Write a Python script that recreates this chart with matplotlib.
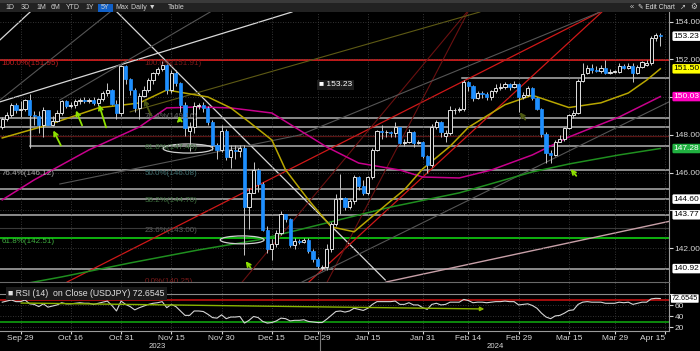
import matplotlib
matplotlib.use("Agg")
import matplotlib.pyplot as plt
import matplotlib.patches as mpatches
import matplotlib.transforms as mtrans
import numpy as np
import pandas as pd

plt.rcParams["font.family"] = ["Liberation Sans", "DejaVu Sans"]

# -----------------------
# Data (USDJPY daily)
# -----------------------
dates = pd.bdate_range("2023-09-25", "2024-04-12")

opens = [148.40, 148.85, 149.05, 149.60, 149.30, 149.35, 149.85, 149.05, 149.00, 148.50,
         149.30, 148.55, 148.75, 149.15, 149.80, 149.55, 149.60, 149.80, 149.85, 149.80,
         149.85, 149.70, 149.90, 150.20, 150.40, 149.65, 149.15, 151.65, 150.95, 150.40,
         149.40, 150.05, 150.40, 150.90, 151.30, 151.50, 151.70, 150.40, 151.30, 150.75,
         149.60, 148.20, 148.40, 149.55, 149.60, 149.45, 148.70, 147.45, 147.20, 148.20,
         146.85, 147.20, 147.15, 147.30, 144.20, 144.95, 146.15, 145.40, 142.95, 141.95,
         142.20, 142.80, 143.80, 143.55, 142.15, 142.40, 142.35, 142.45, 141.85, 141.45,
         140.95, 141.00, 141.95, 143.30, 144.60, 144.65, 144.20, 144.50, 145.75, 145.30,
         144.90, 145.75, 147.20, 148.20, 148.15, 148.15, 148.10, 148.40, 147.55, 147.65,
         148.15, 147.55, 147.60, 146.90, 146.40, 148.40, 148.70, 147.95, 148.10, 149.30,
         149.30, 149.35, 150.80, 150.60, 149.95, 150.20, 150.15, 150.00, 150.30, 150.50,
         150.55, 150.70, 150.55, 150.70, 150.00, 150.10, 150.50, 149.95, 149.35, 148.05,
         147.05, 146.95, 147.65, 147.80, 148.35, 149.05, 149.15, 150.85, 151.30, 151.55,
         151.45, 151.40, 151.55, 151.30, 151.35, 151.35, 151.65, 151.55, 151.65, 151.30,
         151.60, 151.70, 151.80, 153.15, 153.30]

highs = [148.95, 149.20, 149.70, 149.70, 149.80, 149.90, 150.15, 149.25, 149.25, 149.50,
         149.30, 149.00, 149.30, 149.85, 149.85, 149.75, 149.90, 149.95, 150.00, 149.95,
         150.00, 149.95, 150.30, 150.75, 150.45, 149.85, 151.70, 151.70, 151.00, 150.50,
         150.20, 150.60, 151.00, 151.35, 151.60, 151.92, 151.75, 151.45, 151.45, 150.80,
         149.75, 148.70, 149.75, 149.70, 149.75, 149.55, 148.80, 147.55, 148.50, 148.30,
         147.45, 147.45, 147.45, 147.45, 145.20, 146.55, 146.25, 145.50, 143.20, 142.50,
         142.95, 143.95, 143.75, 143.60, 142.55, 142.50, 142.55, 142.55, 141.95, 141.55,
         141.10, 142.20, 143.40, 144.85, 145.95, 144.70, 144.60, 145.90, 145.85, 145.60,
         145.85, 147.30, 148.25, 148.50, 148.25, 148.20, 148.70, 148.40, 147.80, 148.30,
         148.20, 147.75, 147.70, 146.95, 148.60, 148.80, 148.75, 148.25, 149.55, 149.40,
         149.50, 150.90, 150.85, 150.65, 150.35, 150.30, 150.25, 150.40, 150.70, 150.75,
         150.80, 150.75, 150.85, 150.75, 150.25, 150.60, 150.55, 150.00, 149.40, 148.15,
         147.20, 147.75, 148.00, 148.40, 149.10, 149.30, 150.95, 151.80, 151.70, 151.75,
         151.65, 151.70, 151.95, 151.50, 151.45, 151.80, 151.75, 151.80, 151.80, 151.70,
         151.90, 151.95, 153.25, 153.40, 153.40]

lows = [148.30, 148.75, 148.95, 149.15, 148.95, 149.25, 147.30, 148.55, 148.10, 147.90,
        148.50, 148.45, 148.70, 149.05, 149.45, 149.40, 149.45, 149.65, 149.70, 149.70,
        149.60, 149.55, 149.80, 150.05, 149.60, 148.85, 149.00, 150.70, 150.10, 149.20,
        148.85, 150.00, 150.25, 150.70, 151.15, 151.40, 150.15, 150.20, 150.60, 149.20,
        147.95, 147.15, 148.10, 149.35, 149.20, 148.50, 147.20, 146.70, 147.10, 146.65,
        146.25, 146.75, 146.85, 141.65, 143.00, 144.90, 145.00, 142.90, 141.75, 141.40,
        142.05, 142.70, 143.40, 142.05, 141.95, 142.20, 142.25, 141.75, 141.25, 140.90,
        140.85, 140.85, 141.80, 143.20, 143.80, 144.00, 144.05, 144.35, 145.10, 144.80,
        144.80, 145.65, 147.15, 147.80, 147.90, 147.90, 147.90, 147.50, 147.40, 147.55,
        147.35, 147.50, 146.80, 146.00, 146.30, 148.30, 147.90, 147.65, 148.00, 149.10,
        149.20, 149.25, 150.35, 149.80, 149.90, 149.95, 149.85, 149.85, 150.20, 150.40,
        150.45, 150.40, 150.50, 149.20, 149.90, 150.05, 149.85, 149.30, 147.90, 146.50,
        146.50, 146.90, 147.60, 147.70, 148.30, 148.90, 149.10, 150.80, 151.20, 151.30,
        151.35, 151.30, 151.25, 151.25, 151.30, 151.30, 151.50, 151.50, 150.80, 151.25,
        151.55, 151.65, 151.70, 152.95, 152.70]

closes = [148.85, 149.05, 149.60, 149.30, 149.35, 149.85, 149.05, 149.00, 148.50, 149.30,
          148.55, 148.75, 149.15, 149.80, 149.55, 149.60, 149.80, 149.85, 149.80, 149.85,
          149.70, 149.90, 150.20, 150.40, 149.65, 149.15, 151.65, 150.95, 150.40, 149.40,
          150.05, 150.40, 150.90, 151.30, 151.50, 151.70, 150.40, 151.30, 150.75, 149.60,
          148.35, 148.40, 149.55, 149.60, 149.45, 148.70, 147.45, 147.20, 148.20, 146.85,
          147.20, 147.15, 147.30, 144.20, 144.95, 146.15, 145.40, 142.95, 141.95, 142.20,
          142.80, 143.80, 143.55, 142.15, 142.40, 142.35, 142.45, 141.85, 141.45, 141.05,
          141.00, 141.95, 143.30, 144.60, 144.65, 144.20, 144.50, 145.75, 145.30, 144.90,
          145.75, 147.20, 148.20, 148.15, 148.15, 148.10, 148.40, 147.55, 147.65, 148.15,
          147.55, 147.60, 146.90, 146.40, 148.40, 148.70, 148.15, 148.10, 149.30, 149.30,
          149.35, 150.80, 150.60, 149.95, 150.20, 150.15, 150.00, 150.30, 150.50, 150.55,
          150.70, 150.55, 150.70, 150.00, 150.10, 150.50, 149.95, 149.35, 148.05, 147.05,
          146.95, 147.65, 147.80, 148.35, 149.05, 149.15, 150.85, 151.25, 151.55, 151.45,
          151.40, 151.55, 151.30, 151.35, 151.35, 151.65, 151.55, 151.65, 151.30, 151.60,
          151.85, 151.80, 153.15, 153.30, 153.23]

rsi = [66, 68, 70, 67, 67, 70, 63, 62, 58, 63,
       57, 59, 61, 65, 63, 63, 64, 65, 64, 64,
       62, 64, 66, 68, 60, 50, 68, 62, 58, 52,
       56, 59, 62, 64, 65, 67, 56, 62, 58, 50,
       42, 42, 50, 50, 49, 44, 38, 37, 43, 36,
       39, 39, 40, 28, 33, 40, 38, 31, 28, 29,
       32, 37, 36, 32, 33, 33, 34, 31, 30, 29,
       29, 35, 42, 49, 50, 48, 50, 55, 53, 51,
       55, 62, 67, 67, 67, 67, 68, 62, 62, 65,
       61, 61, 56, 53, 62, 64, 61, 62, 66, 66,
       66, 71, 69, 65, 66, 66, 65, 66, 67, 67,
       68, 67, 67, 61, 62, 63, 60, 55, 46, 39,
       36, 41, 42, 46, 51, 52, 62, 66, 67, 66,
       66, 66, 64, 64, 64, 66, 65, 66, 62, 64,
       66, 66, 72, 73, 72.65]

# moving averages, sampled off the chart (day index -> level)
ma_fast_idx = [0, 10, 21, 30, 36, 45, 50, 54, 59, 62, 67, 72, 77, 84, 88, 92, 98, 102, 110, 116, 124, 131, 137, 141, 144]
ma_fast_val = [147.84, 148.53, 149.43, 149.69, 150.38, 150.01, 149.43, 148.69, 147.73, 146.15, 144.56, 143.13, 142.87,
               144.30, 145.10, 146.20, 147.40, 148.40, 149.60, 150.10, 149.45, 149.70, 150.22, 150.90, 151.50]
ma_mid_idx = [0, 7, 19, 30, 36, 43, 50, 59, 65, 71, 78, 87, 92, 100, 107, 116, 124, 135, 144]
ma_mid_val = [144.56, 145.62, 147.21, 148.42, 149.43, 149.48, 149.43, 149.16, 148.26, 147.36, 146.51, 146.14, 145.77,
              145.72, 146.14, 146.94, 147.89, 148.95, 150.03]
ma_slow_idx = [0, 13, 28, 43, 56, 85, 100, 116, 124, 135, 144]
ma_slow_val = [139.90, 140.48, 141.22, 141.91, 142.44, 144.18, 144.93, 146.04, 146.46, 146.94, 147.28]

# drawn levels (price, start day index)
levels_grey = [148.87, 148.44, 146.14, 145.13, 144.60, 143.77, 140.92]
box_level, box_start = 147.42, 6.1
upper_level, upper_start = 151.00, 100.6
red_level = 151.95
green_level = 142.53
darkred_level = 147.93
fib_faint = 143.09

# trendlines (day index, price) -> (day index, price)
trend_white = [(-0.5, 149.75, 63.4, 154.51), (25.1, 154.51, 83.8, 140.32), (-0.5, 153.03, 6.1, 154.51)]
trend_red = [(14.2, 140.21, 130.8, 154.51), (67.1, 140.21, 131.2, 154.51)]
trend_darkred = [(52.5, 140.21, 101.7, 154.51), (71.1, 140.21, 101.9, 154.51)]
trend_grey = [(65.6, 140.21, 145.9, 149.75), (65.2, 148.0, 130.8, 154.51), (-0.5, 149.85, 23.6, 154.51),
              (12.6, 149.85, 45.5, 154.51), (12.6, 145.4, 65.2, 148.0)]
trend_olive = [(28.0, 149.22, 104.5, 154.51)]
trend_rose = [(84.0, 140.21, 145.9, 143.42)]

# fib labels (day index, price, text)
fib_labels = [(-0.2, 151.80, "100.0%(151.95)", "#c02020"),
              (-0.2, 145.98, "76.4%(146.12)", "#a8a8a8"),
              (-0.2, 142.38, "61.8%(142.51)", "#40b040"),
              (31.2, 151.80, "100.0%(151.91)", "#7a1a1a"),
              (31.2, 149.00, "76.4%(149.16)", "#6a6a6a"),
              (31.2, 147.35, "61.8%(147.46)", "#3f6f3f"),
              (31.2, 145.95, "50.0%(146.08)", "#3f6f70"),
              (31.2, 144.55, "38.2%(144.70)", "#3f6f3f"),
              (31.2, 142.92, "23.6%(143.00)", "#5a5a5a"),
              (31.2, 140.25, "0.0%(140.25)", "#7a1a1a")]

# annotation arrows (tail idx, tail price, tip idx, tip price, bright?)
arrows = [(13.1, 147.31, 10.9, 148.37, True), (17.7, 148.37, 15.9, 149.43, True),
          (22.9, 148.26, 21.0, 149.75, True), (38.9, 148.58, 38.7, 149.16, True),
          (54.7, 140.85, 52.9, 141.43, True), (126.0, 145.72, 124.0, 146.30, True),
          (32.8, 148.90, 30.8, 150.01, False), (114.8, 148.69, 112.9, 149.32, False)]
ellipses = [(40.65, 147.28, 10.9, 0.48), (52.5, 142.44, 9.6, 0.42)]

# right side value tags (price, text, face, textcolor)
tags = [(153.23, "153.23", "white", "black"), (151.50, "151.50", "#ffff00", "black"),
        (150.03, "150.03", "#ff00c0", "white"), (147.28, "147.28", "#20b040", "white"),
        (144.60, "144.60", "white", "black"), (143.77, "143.77", "white", "black"),
        (140.92, "140.92", "white", "black")]
price_ticks = [142, 144, 146, 148, 150, 152, 154]
price_ticklabels = ["142.00", "", "146.00", "148.00", "", "152.00", "154.00"]
rsi_ticks = [20, 40, 60, 80]
rsi_ticklabels = ["20", "40", "60", ""]

tick_dates = ["2023-09-29", "2023-10-16", "2023-10-31", "2023-11-15", "2023-11-30", "2023-12-15",
              "2023-12-29", "2024-01-15", "2024-01-31", "2024-02-14", "2024-02-29", "2024-03-15",
              "2024-03-29", "2024-04-15"]
tick_labels = ["Sep 29", "Oct 16", "Oct 31", "Nov 15", "Nov 30", "Dec 15", "Dec 29", "Jan 15",
               "Jan 31", "Feb 14", "Feb 29", "Mar 15", "Mar 29", "Apr 15"]
year_dates = ["2023-11-10", "2024-02-22"]
year_labels = ["2023", "2024"]

# -----------------------
# Plot
# -----------------------
W, H = 700, 351
fig = plt.figure(figsize=(7, 3.51), dpi=100, facecolor="black")


def px(x0, y0, x1, y1):
    return [x0 / W, 1 - y1 / H, (x1 - x0) / W, (y1 - y0) / H]


ax = fig.add_axes(px(0, 12, 669, 282))
ax2 = fig.add_axes(px(0, 282, 669, 331), sharex=ax)
for a in (ax, ax2):
    a.set_facecolor("black")
    for s in a.spines.values():
        s.set_visible(False)
    a.spines["right"].set_visible(True)
    a.spines["right"].set_color("#9a9a9a")

x = np.arange(len(dates))
start = dates[0].strftime("%Y-%m-%d")
tick_pos = np.busday_count(start, tick_dates)
year_pos = np.busday_count(start, year_dates)

ax.set_xlim(-0.49, 145.9)
ax.set_ylim(140.21, 154.51)
ax2.set_ylim(13.6, 102.7)

# grid
ax.set_xticks(tick_pos)
ax.grid(True, color="#444444", ls=(0, (1, 2)), lw=0.6, zorder=0)
ax2.grid(True, color="#444444", ls=(0, (1, 2)), lw=0.6, zorder=0)

# horizontal levels
for lv in levels_grey:
    ax.axhline(lv, color="#c4c4c4", lw=1.1, alpha=0.9, zorder=1)
ax.axhline(fib_faint, color="#3a3a3a", lw=0.8, zorder=1)
ax.axhline(darkred_level, color="#5a1414", lw=0.9, zorder=1)
ax.plot([box_start, 145.9], [box_level, box_level], color="#c4c4c4", lw=1.1, alpha=0.9, zorder=1)
ax.plot([box_start, box_start], [box_level, levels_grey[0]], color="#c4c4c4", lw=1.0, alpha=0.9, zorder=1)
ax.plot([upper_start, 145.9], [upper_level, upper_level], color="#c4c4c4", lw=1.1, alpha=0.9, zorder=1)
ax.axhline(red_level, color="#c41a1a", lw=1.4, zorder=1)
ax.axhline(green_level, color="#10c010", lw=1.3, zorder=1)

# trendlines
for group, col, lw in [(trend_white, "#d8d8d8", 0.9), (trend_red, "#d01818", 0.9),
                       (trend_darkred, "#6a1010", 0.8), (trend_grey, "#555555", 0.8),
                       (trend_olive, "#5e5a14", 0.8), (trend_rose, "#c8a0a8", 1.0)]:
    for x0, y0, x1, y1 in group:
        ax.plot([x0, x1], [y0, y1], color=col, lw=lw, zorder=1.5)

# moving averages
ax.plot(ma_slow_idx, ma_slow_val, color="#1f8f1f", lw=1.1, zorder=2)
ax.plot(ma_mid_idx, ma_mid_val, color="#c8008c", lw=1.1, zorder=2)
ax.plot(ma_fast_idx, ma_fast_val, color="#b8a600", lw=1.1, zorder=2)

# candles
o = np.array(opens)
h = np.array(highs)
l = np.array(lows)
c = np.array(closes)
up = c >= o
ax.vlines(x, l, h, color="#c8c8c8", lw=0.7, zorder=3)
body = np.maximum(np.abs(c - o), 0.03)
ax.bar(x[up], body[up], bottom=np.minimum(o, c)[up], width=0.7,
       facecolor="black", edgecolor="#e0e0e0", linewidth=0.7, zorder=4)
ax.bar(x[~up], body[~up], bottom=np.minimum(o, c)[~up], width=0.7,
       facecolor="#1e8fff", edgecolor="#1e8fff", linewidth=0.5, zorder=4)

# ellipses and arrows
for cx, cy, w, hh in ellipses:
    ax.add_patch(mpatches.Ellipse((cx, cy), w, hh, fill=False, ec="#d0d0d0", lw=0.9, zorder=5))
for x0, y0, x1, y1, bright in arrows:
    ax.annotate("", xy=(x1, y1), xytext=(x0, y0),
                arrowprops=dict(arrowstyle="->", color="#8ee000" if bright else "#4e5a12",
                                lw=1.3, mutation_scale=7), zorder=6)

# fib labels
for fx, fy, txt, col in fib_labels:
    ax.text(fx, fy, txt, color=col, fontsize=5.8, va="center", ha="left", zorder=5)

# crosshair value tag
ax.text(69.3, 150.65, "\u25a0 153.23", color="white", fontsize=6, va="center", ha="left",
        bbox=dict(boxstyle="square,pad=0.2", fc="#1c1c1c", ec="none"), zorder=7)

# right axis
ax.yaxis.tick_right()
ax.set_yticks(price_ticks)
ax.set_yticklabels(price_ticklabels)
ax.tick_params(axis="y", colors="#d8d8d8", labelsize=6, length=3, pad=1.2)
ax.tick_params(axis="x", bottom=False, labelbottom=False)
tr = mtrans.blended_transform_factory(ax.transAxes, ax.transData)
for lv, txt, fc, tc in tags:
    ax.text(1.007, lv, txt, transform=tr, color=tc, fontsize=6, va="center", ha="left",
            bbox=dict(boxstyle="round,pad=0.15", fc=fc, ec="none"), zorder=8, clip_on=False)

# RSI panel
ax2.plot(x, rsi, color="#d4d4d4", lw=0.8, zorder=3)
ax2.axhline(70, color="#d01010", lw=1.1, zorder=2)
ax2.axhline(30, color="#10b010", lw=1.1, zorder=2)
ax2.axhline(80, color="#8a8a8a", lw=0.8, zorder=2)
ax2.annotate("", xy=(106.1, 53.6), xytext=(3.5, 64.5),
             arrowprops=dict(arrowstyle="-|>", color="#8ab400", lw=1.0, mutation_scale=6), zorder=4)
ax2.text(0.012, 0.76, "\u25a0 RSI (14)  on Close (USDJPY) 72.6545", transform=ax2.transAxes,
         color="#e0e0e0", fontsize=6.3, va="center", ha="left",
         bbox=dict(boxstyle="square,pad=0.25", fc="#1a1a1a", ec="none"), zorder=6)
ax2.yaxis.tick_right()
ax2.set_yticks(rsi_ticks)
ax2.set_yticklabels(rsi_ticklabels)
ax2.tick_params(axis="y", colors="#d8d8d8", labelsize=6, length=3, pad=1.2)
tr2 = mtrans.blended_transform_factory(ax2.transAxes, ax2.transData)
ax2.text(1.004, 72.65, "72.6545", transform=tr2, color="black", fontsize=5.2, va="center", ha="left",
         bbox=dict(boxstyle="round,pad=0.1", fc="white", ec="none"), zorder=8, clip_on=False)
ax2.spines["bottom"].set_visible(True)
ax2.spines["bottom"].set_color("#9a9a9a")
ax2.spines["top"].set_visible(True)
ax2.spines["top"].set_color("#6a6a6a")

ax2.set_xticks(tick_pos)
ax2.set_xticklabels(tick_labels)
ax2.tick_params(axis="x", colors="#d8d8d8", labelsize=6, length=2, pad=0.8)
ax2.get_xticklabels()[-1].set_horizontalalignment("right")
ytr = mtrans.blended_transform_factory(ax2.transData, fig.transFigure)
for yp, yl in zip(year_pos, year_labels):
    ax2.text(yp, 1 - 346.5 / H, yl, transform=ytr, color="#d8d8d8", fontsize=5.6,
             ha="center", va="center", clip_on=False)
ax2.plot([69.5, 69.5], [1 - 332 / H, 0], color="#7a7a7a", lw=0.8, clip_on=False, transform=ytr)

# toolbar
fig.patches.append(mpatches.Rectangle((0, 1 - 3 / H), 1, 3 / H, transform=fig.transFigure,
                                      fc="#3a3a3a", ec="none"))
fig.patches.append(mpatches.Rectangle((0, 1 - 12 / H), 1, 9 / H, transform=fig.transFigure,
                                      fc="#222222", ec="none"))
fig.patches.append(mpatches.Rectangle((98 / W, 1 - 12 / H), 15 / W, 8.5 / H, transform=fig.transFigure,
                                      fc="#1060c8", ec="none"))
buttons = [(10, "1D"), (25, "3D"), (41, "1M"), (56, "6M"), (73, "YTD"), (90, "1Y"), (105, "5Y"),
           (122, "Max"), (143, "Daily \u25bc"), (176, "Table")]
for bx, bt in buttons:
    fig.text(bx / W, 1 - 7.5 / H, bt, color="#d0d0d0", fontsize=5, ha="center", va="center")
fig.text(632 / W, 1 - 7.5 / H, "\u00ab", color="#d0d0d0", fontsize=5.5, ha="center", va="center")
fig.text(638 / W, 1 - 7.5 / H, "\u270e Edit Chart", color="#e0e0e0", fontsize=4.8, ha="left", va="center")
fig.text(683 / W, 1 - 7.5 / H, "\u2197", color="#d0d0d0", fontsize=5, ha="center", va="center")
fig.text(694 / W, 1 - 7.5 / H, "\u2699", color="#d0d0d0", fontsize=5.5, ha="center", va="center")

fig.savefig("out.png", dpi=100, facecolor="black")
